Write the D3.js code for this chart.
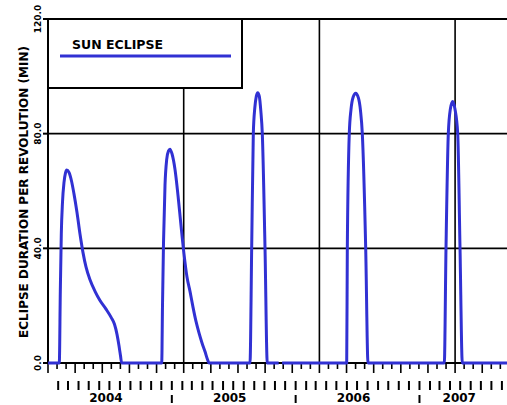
<!DOCTYPE html>
<html><head><meta charset="utf-8">
<script src="https://cdn.jsdelivr.net/npm/d3@7"></script>
<style>
body{margin:0;background:#fff}
svg{display:block}
text{font-family:"DejaVu Sans",sans-serif;font-weight:bold;fill:#000}
</style>
</head><body>
<svg id="c" width="507" height="405"></svg>
<script>
// elapsed days since start epoch (null = no data)
const days = [
  0, 33.3, 36.3, 39.2, 42.7, 47.2, 51.6, 55.1, 61.9, 69.3, 76.6, 85.5, 94.3, 103.2, 112.0, 123.8, 138.6, 153.3, 171.0, 185.7, 196.0, 203.4, 209.3, 213.7, 217.2,
  335.2, 337.5, 340.5, 344.9, 349.9, 355.2, 359.6, 365.5, 374.4, 383.2, 392.0, 400.9, 409.7, 418.6, 427.4, 436.3, 445.1, 454.0, 462.8, 470.2, 474.6,
  595.4, 600.4, 605.2, 609.6, 614, 618.1, 622.9, 627.3, 631.7, 639.7, 646.4,
  680, 685, 690,
  880.5, 882.3, 888.1, 893.2, 899.6, 907, 915, 921.2, 926.5, 936.5, 943.3,
  1168.2, 1173.2, 1180, 1185.9, 1192.9, 1199.7, 1207.7, 1214.5, 1221.3, 1353
];
const minutes = [
  0, 0, 25, 45, 56, 63, 66.3, 67.3, 66.5, 63.5, 59, 52.5, 45, 38.5, 33.5, 29, 25, 21.8, 18.8, 16, 13.5, 10, 6, 2.5, 0,
  0, 20, 42, 62, 71, 74, 74.6, 73, 67.5, 58.5, 48, 38, 30, 25, 19.5, 14.5, 10.5, 7, 4, 1.2, 0,
  0, 40, 80, 89, 93, 94.3, 93, 88, 80, 40, 0,
  0, null, 0,
  0, 40, 80, 88.5, 92.8, 94.1, 92.5, 88, 80, 40, 0,
  0, 40, 80, 88.5, 91.2, 88.5, 80, 40, 0, 0
];
const yTicks = [0, 40, 80, 120];
const yTickLabels = ["0.0", "40.0", "80.0", "120.0"];
const yearLabels = ["2004", "2005", "2006", "2007"];
const seriesName = "SUN ECLIPSE";
const yTitle = "ECLIPSE DURATION PER REVOLUTION (MIN)";
const startDate = Date.UTC(2004, 0, 2);
const dayDomain = [0, 1353];
const majorStep = 80, gridStep = 400;

const svg = d3.select("#c");
const L = 48, R = 507, T = 19, B = 363;
const x = d3.scaleLinear().domain(dayDomain).range([L, R]);
const y = d3.scaleLinear().domain([0, 120]).range([B, T]);
const blue = "#3131d3";
const toDay = d => (d - startDate) / 864e5;

// grid
const gridDays = d3.range(gridStep, dayDomain[1], gridStep);
svg.selectAll(".vg").data(gridDays).join("line")
  .attr("x1", d => x(d)).attr("x2", d => x(d)).attr("y1", T).attr("y2", B)
  .attr("stroke", "#000").attr("stroke-width", 1.6);
svg.selectAll(".hg").data(yTicks.slice(1, -1)).join("line")
  .attr("x1", L).attr("x2", R).attr("y1", d => y(d)).attr("y2", d => y(d))
  .attr("stroke", "#000").attr("stroke-width", 1.6);
svg.append("line").attr("x1", L).attr("x2", R).attr("y1", y(120)).attr("y2", y(120))
  .attr("stroke", "#000").attr("stroke-width", 2);

// x axis ticks
const minorDays = d3.range(0, dayDomain[1] + 1, majorStep / 3);
svg.selectAll(".xt").data(minorDays).join("line")
  .attr("x1", d => x(d)).attr("x2", d => x(d)).attr("y1", B)
  .attr("y2", (d, i) => i % 3 === 0 ? B + 10 : B + 6)
  .attr("stroke", "#000").attr("stroke-width", 1.6);

// month marks
const months = d3.utcMonth.range(new Date(startDate + 864e5), new Date(startDate + dayDomain[1] * 864e5));
svg.selectAll(".mm").data(months).join("line")
  .attr("x1", d => x(toDay(d))).attr("x2", d => x(toDay(d)))
  .attr("y1", 381).attr("y2", 390).attr("stroke", "#000").attr("stroke-width", 2);
// year marks
const years = d3.utcYear.range(new Date(startDate + 864e5), new Date(startDate + dayDomain[1] * 864e5));
svg.selectAll(".ym").data(years).join("line")
  .attr("x1", d => x(toDay(d))).attr("x2", d => x(toDay(d)))
  .attr("y1", 395).attr("y2", 403).attr("stroke", "#000").attr("stroke-width", 2);
const bounds = [L, ...years.map(d => x(toDay(d))), R];
svg.selectAll(".yl").data(yearLabels).join("text")
  .attr("x", (d, i) => (bounds[i] + bounds[i + 1]) / 2 - 4)
  .attr("y", 402).attr("text-anchor", "middle").attr("font-size", 12).text(d => d);

// y axis
svg.selectAll(".yt").data(yTicks).join("line")
  .attr("x1", L - 5).attr("x2", L).attr("y1", d => y(d)).attr("y2", d => y(d))
  .attr("stroke", "#000").attr("stroke-width", 2);
svg.selectAll(".ytl").data(yTicks).join("text")
  .attr("transform", d => `translate(40.5,${y(d)}) rotate(-90)`)
  .attr("text-anchor", "middle").attr("font-size", 9).text((d, i) => yTickLabels[i]);
svg.append("text").attr("transform", `translate(28,${(T + B) / 2 + 1}) rotate(-90)`)
  .attr("text-anchor", "middle").attr("font-size", 12).text(yTitle);

// legend box
svg.append("rect").attr("x", L).attr("y", T).attr("width", 242 - L).attr("height", 88 - T)
  .attr("fill", "#fff").attr("stroke", "#000").attr("stroke-width", 2);
svg.append("text").attr("x", 72).attr("y", 49).attr("font-size", 12.5).text(seriesName);
svg.append("line").attr("x1", 60).attr("x2", 231).attr("y1", 56).attr("y2", 56)
  .attr("stroke", blue).attr("stroke-width", 3);

// axes lines
svg.append("line").attr("x1", L).attr("x2", L).attr("y1", T).attr("y2", B)
  .attr("stroke", "#000").attr("stroke-width", 2);
svg.append("line").attr("x1", L).attr("x2", R).attr("y1", B).attr("y2", B)
  .attr("stroke", "#000").attr("stroke-width", 2);

// series
const pts = days.map((d, i) => [d, minutes[i]]);
svg.append("path").datum(pts)
  .attr("d", d3.line().defined(d => d[1] !== null).x(d => x(d[0])).y(d => y(d[1])).curve(d3.curveMonotoneX))
  .attr("fill", "none").attr("stroke", blue).attr("stroke-width", 3).attr("stroke-linejoin", "round");
</script>
</body></html>
